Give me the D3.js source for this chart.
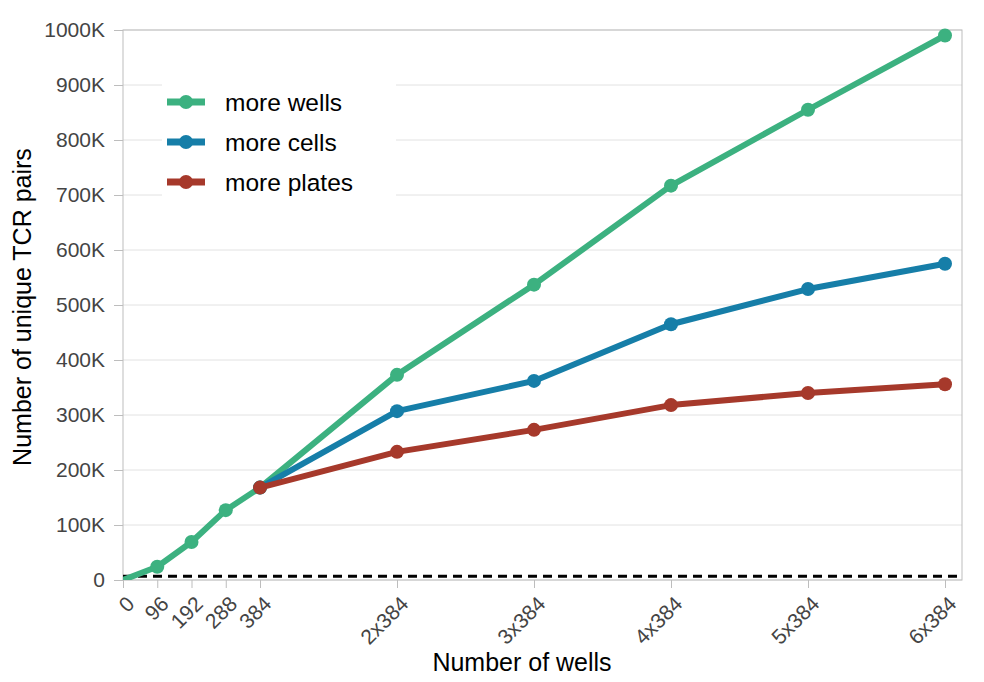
<!DOCTYPE html>
<html>
<head>
<meta charset="utf-8">
<script src="https://cdn.jsdelivr.net/npm/d3@7"></script>
<style>
  body { margin: 0; background: #fff; }
  svg { font-family: "Liberation Sans", Arial, Helvetica, sans-serif; }
</style>
</head>
<body>
<div id="chart"></div>
<script>
// wells on the x axis
const wellTicks = [0, 96, 192, 288, 384, 768, 1152, 1536, 1920, 2304]
const wellLabels = ['0', '96', '192', '288', '384', '2x384', '3x384', '4x384', '5x384', '6x384']

const wellsX = [0, 96, 192, 288, 384, 768, 1152, 1536, 1920, 2304]
const moreWells = [0, 24000, 69000, 127000, 168000, 373000, 537000, 717000, 855000, 990000]

const scaleX = [384, 768, 1152, 1536, 1920, 2304]
const moreCells = [168000, 307000, 362000, 465000, 529000, 575000]
const morePlates = [168000, 233000, 273000, 318000, 340000, 356000]

const baseline = 7000
const yTicks = [0, 100000, 200000, 300000, 400000, 500000, 600000, 700000, 800000, 900000, 1000000]

const series = [
  { name: 'more wells', color: '#3cb180', x: wellsX, y: moreWells },
  { name: 'more cells', color: '#167ea8', x: scaleX, y: moreCells },
  { name: 'more plates', color: '#a6392b', x: scaleX, y: morePlates }
]

const width = 984
const height = 682
const plot = { left: 123, right: 962, top: 30, bottom: 580 }

const xScale = d3.scaleLinear()
  .domain([0, 2304])
  .range([plot.left, 945])

const yScale = d3.scaleLinear()
  .domain([0, 1000000])
  .range([plot.bottom, plot.top])

const svg = d3.select('#chart')
  .append('svg')
  .attr('width', width)
  .attr('height', height)

svg.append('defs').append('clipPath')
  .attr('id', 'clip')
  .append('rect')
  .attr('x', plot.left)
  .attr('y', plot.top - 10)
  .attr('width', plot.right - plot.left)
  .attr('height', plot.bottom - plot.top + 10)

// grid
svg.append('g')
  .selectAll('line')
  .data(yTicks)
  .join('line')
  .attr('x1', plot.left)
  .attr('x2', plot.right)
  .attr('y1', d => yScale(d))
  .attr('y2', d => yScale(d))
  .attr('stroke', '#e2e2e2')
  .attr('stroke-width', 1)

// frame
svg.append('rect')
  .attr('x', plot.left)
  .attr('y', plot.top)
  .attr('width', plot.right - plot.left)
  .attr('height', plot.bottom - plot.top)
  .attr('fill', 'none')
  .attr('stroke', '#bdbdbd')
  .attr('stroke-width', 1)

const yAxis = g => g
  .attr('transform', `translate(${plot.left},0)`)
  .call(d3.axisLeft(yScale).tickValues(yTicks).tickSize(9).tickPadding(9)
    .tickFormat(d => d === 0 ? '0' : (d / 1000) + 'K'))
  .call(g => g.select('.domain').remove())
  .call(g => g.selectAll('.tick line').attr('stroke', '#bdbdbd'))
  .call(g => g.selectAll('.tick text')
    .attr('fill', '#444')
    .style('font-size', '21px')
    .style('font-family', '"Liberation Sans", Arial, sans-serif'))

const xAxis = g => g
  .attr('transform', `translate(0,${plot.bottom})`)
  .call(d3.axisBottom(xScale).tickValues(wellTicks).tickSize(8)
    .tickFormat((d, i) => wellLabels[i]))
  .call(g => g.select('.domain').remove())
  .call(g => g.selectAll('.tick line').attr('stroke', '#bdbdbd'))
  .call(g => g.selectAll('.tick text')
    .attr('fill', '#444')
    .attr('text-anchor', 'end')
    .attr('dy', '0.35em')
    .attr('transform', 'translate(7,20) rotate(-45)')
    .attr('y', 0)
    .style('font-size', '21px')
    .style('font-family', '"Liberation Sans", Arial, sans-serif'))

svg.append('g').call(yAxis)
svg.append('g').call(xAxis)

// dashed baseline
svg.append('line')
  .attr('x1', plot.left)
  .attr('x2', plot.right)
  .attr('y1', yScale(baseline))
  .attr('y2', yScale(baseline))
  .attr('stroke', '#000')
  .attr('stroke-width', 3)
  .attr('stroke-dasharray', '9,6')

const line = d3.line()
  .x(d => xScale(d[0]))
  .y(d => yScale(d[1]))

const marks = svg.append('g').attr('clip-path', 'url(#clip)')

series.forEach(s => {
  const pts = s.x.map((x, i) => [x, s.y[i]])
  marks.append('path')
    .datum(pts)
    .attr('d', line)
    .attr('fill', 'none')
    .attr('stroke', s.color)
    .attr('stroke-width', 6)
    .attr('stroke-linejoin', 'round')
  marks.append('g')
    .attr('fill', s.color)
    .selectAll('circle')
    .data(pts.filter(d => d[0] > 0))
    .join('circle')
    .attr('cx', d => xScale(d[0]))
    .attr('cy', d => yScale(d[1]))
    .attr('r', 7)
})

// legend
const legend = svg.append('g')
legend.append('rect')
  .attr('x', 162)
  .attr('y', 84)
  .attr('width', 234)
  .attr('height', 112)
  .attr('fill', '#fff')

const legendRow = legend.selectAll('g')
  .data(series)
  .join('g')
  .attr('transform', (d, i) => `translate(0,${102 + i * 40})`)

legendRow.append('line')
  .attr('x1', 167)
  .attr('x2', 205)
  .attr('stroke', d => d.color)
  .attr('stroke-width', 7)
legendRow.append('circle')
  .attr('cx', 186)
  .attr('r', 7)
  .attr('fill', d => d.color)
legendRow.append('text')
  .attr('x', 225)
  .attr('dy', '0.35em')
  .attr('fill', '#000')
  .style('font-size', '24.5px')
  .text(d => d.name)

// axis titles
svg.append('text')
  .attr('x', 522)
  .attr('y', 671)
  .attr('text-anchor', 'middle')
  .style('font-size', '25px')
  .attr('fill', '#000')
  .text('Number of wells')

svg.append('text')
  .attr('transform', `translate(31,${307}) rotate(-90)`)
  .attr('text-anchor', 'middle')
  .style('font-size', '25px')
  .attr('fill', '#000')
  .text('Number of unique TCR pairs')
</script>
</body>
</html>
